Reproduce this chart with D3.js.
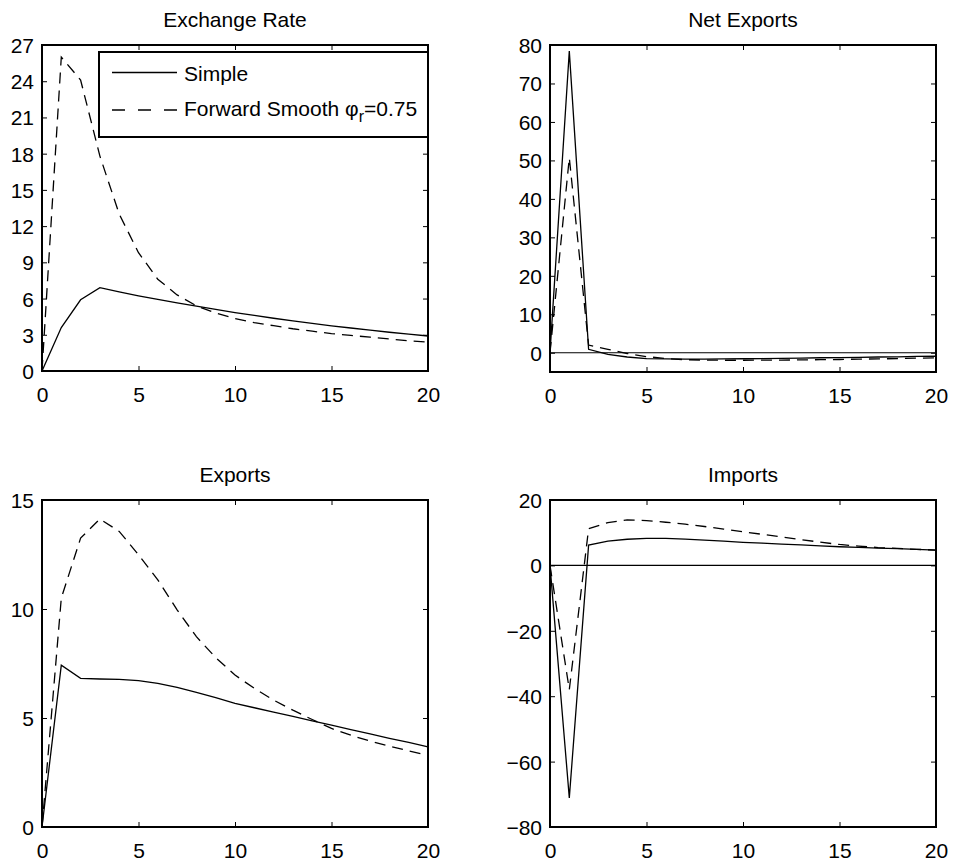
<!DOCTYPE html>
<html>
<head>
<meta charset="utf-8">
<script src="https://cdn.jsdelivr.net/npm/d3@7"></script>
<style>
  html, body { margin: 0; padding: 0; background: #fff; }
  svg { display: block; }
  text { font-family: "Liberation Sans", Arial, Helvetica, sans-serif; fill: #000; }
</style>
</head>
<body>
<svg id="chart" width="953" height="861"></svg>
<script>
// ---- data ----
const periods = d3.range(0, 21);
const xTicks = [0, 5, 10, 15, 20];

const exchangeSimple  = [0, 3.6, 5.9, 6.9, 6.55, 6.23, 5.93, 5.64, 5.37, 5.1, 4.84, 4.6, 4.37, 4.15, 3.94, 3.74, 3.56, 3.38, 3.21, 3.05, 2.9];
const exchangeForward = [0, 26.0, 24.1, 17.8, 13.0, 9.8, 7.6, 6.3, 5.4, 4.8, 4.35, 4.0, 3.75, 3.5, 3.3, 3.1, 2.95, 2.8, 2.65, 2.5, 2.4];
const exchangeTicks = [0, 3, 6, 9, 12, 15, 18, 21, 24, 27];

const netSimple  = [0, 78.4, 0.9, -0.4, -1.1, -1.5, -1.6, -1.65, -1.65, -1.6, -1.55, -1.5, -1.45, -1.4, -1.3, -1.25, -1.2, -1.1, -1.05, -0.95, -0.9];
const netForward = [0, 50.7, 2.0, 0.9, -0.2, -1.0, -1.5, -1.8, -1.9, -1.95, -1.95, -1.9, -1.9, -1.85, -1.8, -1.75, -1.65, -1.6, -1.5, -1.4, -1.3];
const netTicks = [0, 10, 20, 30, 40, 50, 60, 70, 80];

const exportsSimple  = [0, 7.42, 6.82, 6.79, 6.77, 6.71, 6.59, 6.4, 6.17, 5.93, 5.67, 5.47, 5.27, 5.07, 4.87, 4.67, 4.47, 4.27, 4.07, 3.88, 3.68];
const exportsForward = [0, 10.5, 13.25, 14.13, 13.56, 12.49, 11.34, 9.96, 8.73, 7.77, 6.97, 6.36, 5.82, 5.36, 4.93, 4.52, 4.21, 3.94, 3.71, 3.49, 3.29];
const exportsTicks = [0, 5, 10, 15];

const importsSimple  = [0, -71.1, 6.2, 7.4, 8.0, 8.25, 8.25, 8.05, 7.75, 7.4, 7.05, 6.8, 6.5, 6.25, 5.95, 5.7, 5.5, 5.3, 5.1, 4.9, 4.7];
const importsForward = [0, -38, 11.2, 13.1, 13.9, 13.7, 13.2, 12.6, 11.9, 11.1, 10.3, 9.5, 8.7, 7.9, 7.1, 6.4, 5.9, 5.45, 5.2, 4.9, 4.7];
const importsTicks = [-80, -60, -40, -20, 0, 20];

const seriesNames = ["Simple", "Forward Smooth"];

// ---- layout ----
const svg = d3.select("#chart");
const FONT = 21;

const panels = [
  { title: "Exchange Rate", simple: exchangeSimple, forward: exchangeForward, yDomain: [0, 27], yTicks: exchangeTicks,
    x0: 42, x1: 428, y0: 45, y1: 371, zero: false, legend: true },
  { title: "Net Exports", simple: netSimple, forward: netForward, yDomain: [-5, 80], yTicks: netTicks,
    x0: 550, x1: 936, y0: 45, y1: 372, zero: true },
  { title: "Exports", simple: exportsSimple, forward: exportsForward, yDomain: [0, 15], yTicks: exportsTicks,
    x0: 42, x1: 428, y0: 500, y1: 827, zero: false },
  { title: "Imports", simple: importsSimple, forward: importsForward, yDomain: [-80, 20], yTicks: importsTicks,
    x0: 550, x1: 936, y0: 500, y1: 827, zero: true }
];

const fmt = v => (v < 0 ? "\u2212" + Math.abs(v) : String(v));

panels.forEach(p => {
  const x = d3.scaleLinear().domain([0, 20]).range([p.x0, p.x1]);
  const y = d3.scaleLinear().domain(p.yDomain).range([p.y1, p.y0]);
  const g = svg.append("g");

  // axes
  const ax = g.append("g").attr("transform", `translate(0,${p.y1})`)
    .call(d3.axisBottom(x).tickValues(xTicks).tickSize(-5).tickSizeOuter(0).tickPadding(16));
  const axT = g.append("g").attr("transform", `translate(0,${p.y0})`)
    .call(d3.axisTop(x).tickValues(xTicks).tickSize(-5).tickSizeOuter(0).tickFormat(""));
  const ayL = g.append("g").attr("transform", `translate(${p.x0},0)`)
    .call(d3.axisLeft(y).tickValues(p.yTicks).tickSize(-5).tickSizeOuter(0).tickPadding(8).tickFormat(fmt));
  const ayR = g.append("g").attr("transform", `translate(${p.x1},0)`)
    .call(d3.axisRight(y).tickValues(p.yTicks).tickSize(-5).tickSizeOuter(0).tickFormat(""));

  [ax, axT, ayL, ayR].forEach(a => {
    a.select(".domain").remove();
    a.selectAll(".tick line").attr("stroke", "#000").attr("stroke-width", 1);
    a.selectAll(".tick text").attr("font-size", FONT).attr("font-family", "Liberation Sans, Arial, sans-serif").attr("fill", "#000");
  });
  ayL.selectAll(".tick text").attr("dy", null).attr("y", 7.5).attr("dominant-baseline", "auto");

  // zero line
  if (p.zero) {
    g.append("line").attr("x1", p.x0).attr("x2", p.x1).attr("y1", y(0)).attr("y2", y(0))
      .attr("stroke", "#000").attr("stroke-width", 1.2);
  }

  const line = d3.line().x((d, i) => x(periods[i])).y(d => y(d));
  g.append("path").datum(p.simple).attr("d", line).attr("fill", "none")
    .attr("stroke", "#000").attr("stroke-width", 1.3);
  g.append("path").datum(p.forward).attr("d", line).attr("fill", "none")
    .attr("stroke", "#000").attr("stroke-width", 1.3).attr("stroke-dasharray", "11,7");

  // box
  g.append("rect").attr("x", p.x0).attr("y", p.y0).attr("width", p.x1 - p.x0).attr("height", p.y1 - p.y0)
    .attr("fill", "none").attr("stroke", "#000").attr("stroke-width", 2);

  // title
  g.append("text").attr("x", (p.x0 + p.x1) / 2).attr("y", p.y0 - 18)
    .attr("text-anchor", "middle").attr("font-size", FONT).text(p.title);

  if (p.legend) {
    const lg = g.append("g");
    lg.append("rect").attr("x", 99).attr("y", 52).attr("width", p.x1 - 99).attr("height", 85)
      .attr("fill", "#fff").attr("stroke", "#000").attr("stroke-width", 2);
    lg.append("line").attr("x1", 112).attr("x2", 177).attr("y1", 72.5).attr("y2", 72.5)
      .attr("stroke", "#000").attr("stroke-width", 1.3);
    lg.append("text").attr("x", 184).attr("y", 81).attr("font-size", FONT).text(seriesNames[0]);
    lg.append("line").attr("x1", 112).attr("x2", 177).attr("y1", 110).attr("y2", 110)
      .attr("stroke", "#000").attr("stroke-width", 1.3).attr("stroke-dasharray", "13,13");
    const t = lg.append("text").attr("x", 184).attr("y", 116).attr("font-size", FONT);
    t.append("tspan").text(seriesNames[1] + " \u03C6");
    t.append("tspan").attr("dy", 6).attr("font-size", 16).text("r");
    t.append("tspan").attr("dy", -6).text("=0.75");
  }
});
</script>
</body>
</html>
